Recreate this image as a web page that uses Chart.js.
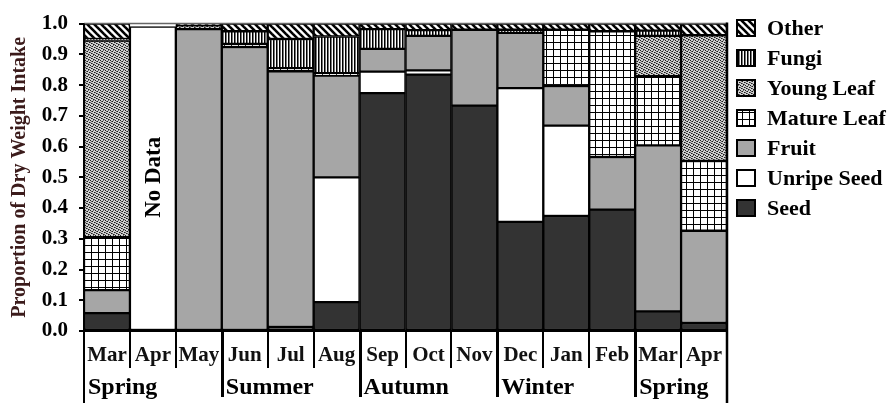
<!DOCTYPE html>
<html>
<head>
<meta charset="utf-8">
<script src="https://cdn.jsdelivr.net/npm/chart.js@4/dist/chart.umd.min.js"></script>
<style>
  html, body { margin: 0; padding: 0; background: #fff; }
  #c { display: block; }
</style>
</head>
<body>
<canvas id="c" width="889" height="403"></canvas>
<script>
// Month categories and the seasons they fall in
const months = ['Mar', 'Apr', 'May', 'Jun', 'Jul', 'Aug', 'Sep', 'Oct', 'Nov', 'Dec', 'Jan', 'Feb', 'Mar', 'Apr'];
const seasons = ['Spring', 'Summer', 'Autumn', 'Winter', 'Spring'];
const seasonStarts = [0, 3, 6, 9, 12];

// Proportion of dry weight intake per food class (stacked bottom to top)
const seed       = [0.058, null, null, null, 0.013, 0.094, 0.774, 0.834, 0.733, 0.355, 0.374, 0.395, 0.064, 0.026];
const unripeSeed = [null, null, null, null, null, 0.406, 0.070, 0.014, null, 0.435, 0.294, null, null, null];
const fruit      = [0.075, null, 0.982, 0.924, 0.832, 0.331, 0.074, 0.112, 0.247, 0.180, 0.129, 0.171, 0.540, 0.300];
const matureLeaf = [0.172, null, null, 0.010, 0.010, 0.008, null, null, null, null, 0.183, 0.409, 0.225, 0.227];
const youngLeaf  = [0.640, null, 0.012, null, null, null, null, null, null, null, null, null, 0.131, 0.409];
const fungi      = [0.005, null, null, 0.041, 0.095, 0.119, 0.064, 0.019, null, 0.010, null, null, 0.017, null];
const other      = [0.050, null, 0.006, 0.025, 0.050, 0.042, 0.018, 0.021, 0.020, 0.020, 0.020, 0.025, 0.023, 0.038];
const noData     = [null, 0.99, null, null, null, null, null, null, null, null, null, null, null, null];

const SERIF = '"Liberation Serif", "Times New Roman", serif';

// Fill patterns
function makePattern(w, h, paint) {
  const c = document.createElement('canvas');
  c.width = w; c.height = h;
  const g = c.getContext('2d');
  paint(g, w, h);
  return g.createPattern(c, 'repeat');
}
const hatchDiag = makePattern(7, 7, (g, w, h) => {
  g.fillStyle = '#fff'; g.fillRect(0, 0, w, h);
  g.strokeStyle = '#000'; g.lineWidth = 2.6;
  for (const o of [-w, 0, w]) {
    g.beginPath(); g.moveTo(o - 1, -1); g.lineTo(o + w + 1, h + 1); g.stroke();
  }
});
const hatchVert = makePattern(3, 4, (g, w, h) => {
  g.fillStyle = '#fff'; g.fillRect(0, 0, w, h);
  g.fillStyle = '#000'; g.fillRect(0, 0, 1, h);
  g.fillStyle = '#777'; g.fillRect(1, 0, 1, h);
});
const stipple = makePattern(5, 5, (g, w, h) => {
  g.fillStyle = '#cfcfcf'; g.fillRect(0, 0, w, h);
  g.fillStyle = '#1a1a1a';
  [[0, 0], [2, 1], [4, 2], [1, 3], [3, 4]].forEach(([x, y]) => g.fillRect(x, y, 1, 1));
  g.fillStyle = '#666';
  [[3, 0], [0, 2], [2, 3], [4, 4], [1, 1]].forEach(([x, y]) => g.fillRect(x, y, 1, 1));
});
const grid = makePattern(7, 7, (g, w, h) => {
  g.fillStyle = '#fff'; g.fillRect(0, 0, w, h);
  g.fillStyle = '#000';
  g.fillRect(0, 0, 1, h);
  g.fillRect(0, 0, w, 1);
});

function barSet(label, data, fill) {
  return {
    label, data,
    backgroundColor: fill,
    borderColor: '#000',
    borderWidth: 1.5,
    borderSkipped: false,
    barPercentage: 1,
    categoryPercentage: 1
  };
}

const datasets = [
  barSet('Seed', seed, '#333333'),
  barSet('Unripe Seed', unripeSeed, '#ffffff'),
  barSet('Fruit', fruit, '#a6a6a6'),
  barSet('Mature Leaf', matureLeaf, grid),
  barSet('Young Leaf', youngLeaf, stipple),
  barSet('Fungi', fungi, hatchVert),
  barSet('Other', other, hatchDiag),
  barSet('No Data', noData, '#ffffff')
];

// Frame, category separators, season row, legend and the "No Data" note
const decor = {
  id: 'decor',
  afterDatasetsDraw(chart) {
    const { ctx, scales: { x, y } } = chart;
    ctx.save();
    ctx.translate(x.getPixelForValue(1) + 1, y.getPixelForValue(0.5));
    ctx.rotate(-Math.PI / 2);
    ctx.fillStyle = '#000';
    ctx.font = 'bold 23px ' + SERIF;
    ctx.textAlign = 'center';
    ctx.textBaseline = 'middle';
    ctx.fillText('No Data', 0, 0);
    ctx.restore();
  },
  afterDraw(chart) {
    const { ctx, chartArea: a, scales: { x } } = chart;
    const step = x.getPixelForValue(1) - x.getPixelForValue(0);
    const edge = i => x.getPixelForValue(i) - step / 2;
    const H = chart.height;
    ctx.save();
    ctx.lineCap = 'butt';

    // top frame
    ctx.strokeStyle = '#666';
    ctx.lineWidth = 1.5;
    ctx.beginPath(); ctx.moveTo(a.left, a.top); ctx.lineTo(a.right, a.top); ctx.stroke();

    ctx.strokeStyle = '#000';
    // month separators
    ctx.lineWidth = 2;
    for (let i = 1; i < months.length; i++) {
      if (seasonStarts.includes(i)) continue;
      const px = Math.round(edge(i));
      ctx.beginPath(); ctx.moveTo(px, a.bottom); ctx.lineTo(px, 368); ctx.stroke();
    }
    // season separators
    ctx.lineWidth = 3;
    seasonStarts.slice(1).forEach(i => {
      const px = Math.round(edge(i)) + 0.5;
      ctx.beginPath(); ctx.moveTo(px, a.bottom); ctx.lineTo(px, 397); ctx.stroke();
    });
    // outer verticals
    ctx.lineWidth = 2;
    ctx.beginPath(); ctx.moveTo(a.left, a.top); ctx.lineTo(a.left, H); ctx.stroke();
    ctx.lineWidth = 2.5;
    ctx.beginPath(); ctx.moveTo(a.right, a.top - 1); ctx.lineTo(a.right, H); ctx.stroke();

    // season labels
    ctx.fillStyle = '#000';
    ctx.font = 'bold 24px ' + SERIF;
    ctx.textAlign = 'left';
    ctx.textBaseline = 'alphabetic';
    seasons.forEach((s, k) => ctx.fillText(s, edge(seasonStarts[k]) + 4, 394));

    // legend (top entry is the top of the stack)
    const items = chart.data.datasets.filter(d => d.label !== 'No Data').slice().reverse();
    ctx.font = 'bold 22px ' + SERIF;
    ctx.textBaseline = 'middle';
    items.forEach((d, k) => {
      const cy = 28 + 30 * k;
      ctx.fillStyle = d.backgroundColor;
      ctx.fillRect(737, cy - 8, 18, 16);
      ctx.lineWidth = 2;
      ctx.strokeStyle = '#000';
      ctx.strokeRect(737, cy - 8, 18, 16);
      ctx.fillStyle = '#000';
      ctx.fillText(d.label, 767, cy + 1);
    });
    ctx.restore();
  }
};

new Chart(document.getElementById('c'), {
  type: 'bar',
  data: { labels: months, datasets },
  options: {
    responsive: false,
    animation: false,
    devicePixelRatio: 1,
    layout: { padding: { top: 16, right: 162, bottom: 0, left: 0 } },
    plugins: { legend: { display: false }, tooltip: { enabled: false } },
    scales: {
      x: {
        stacked: true,
        offset: true,
        grid: { display: false, drawTicks: false },
        border: { display: true, color: '#000', width: 2 },
        ticks: {
          autoSkip: false, maxRotation: 0, minRotation: 0, padding: 12,
          color: '#111',
          font: { family: SERIF, size: 21, weight: 'bold' }
        },
        afterFit: s => { s.height = 72; }
      },
      y: {
        stacked: true,
        min: 0, max: 1,
        ticks: {
          stepSize: 0.1, padding: 11, color: '#000',
          font: { family: SERIF, size: 21, weight: 'bold' },
          callback: v => Number(v).toFixed(1)
        },
        grid: { drawOnChartArea: false, drawTicks: true, tickLength: 5, color: '#000', lineWidth: 2 },
        border: { display: true, color: '#000', width: 2 },
        title: {
          display: true,
          text: 'Proportion of Dry Weight Intake',
          color: '#3b1b1b',
          font: { family: SERIF, size: 20, weight: 'bold' },
          padding: { top: 8, bottom: 0 }
        },
        afterFit: s => { s.width = 84; }
      }
    }
  },
  plugins: [decor]
});
</script>
</body>
</html>
